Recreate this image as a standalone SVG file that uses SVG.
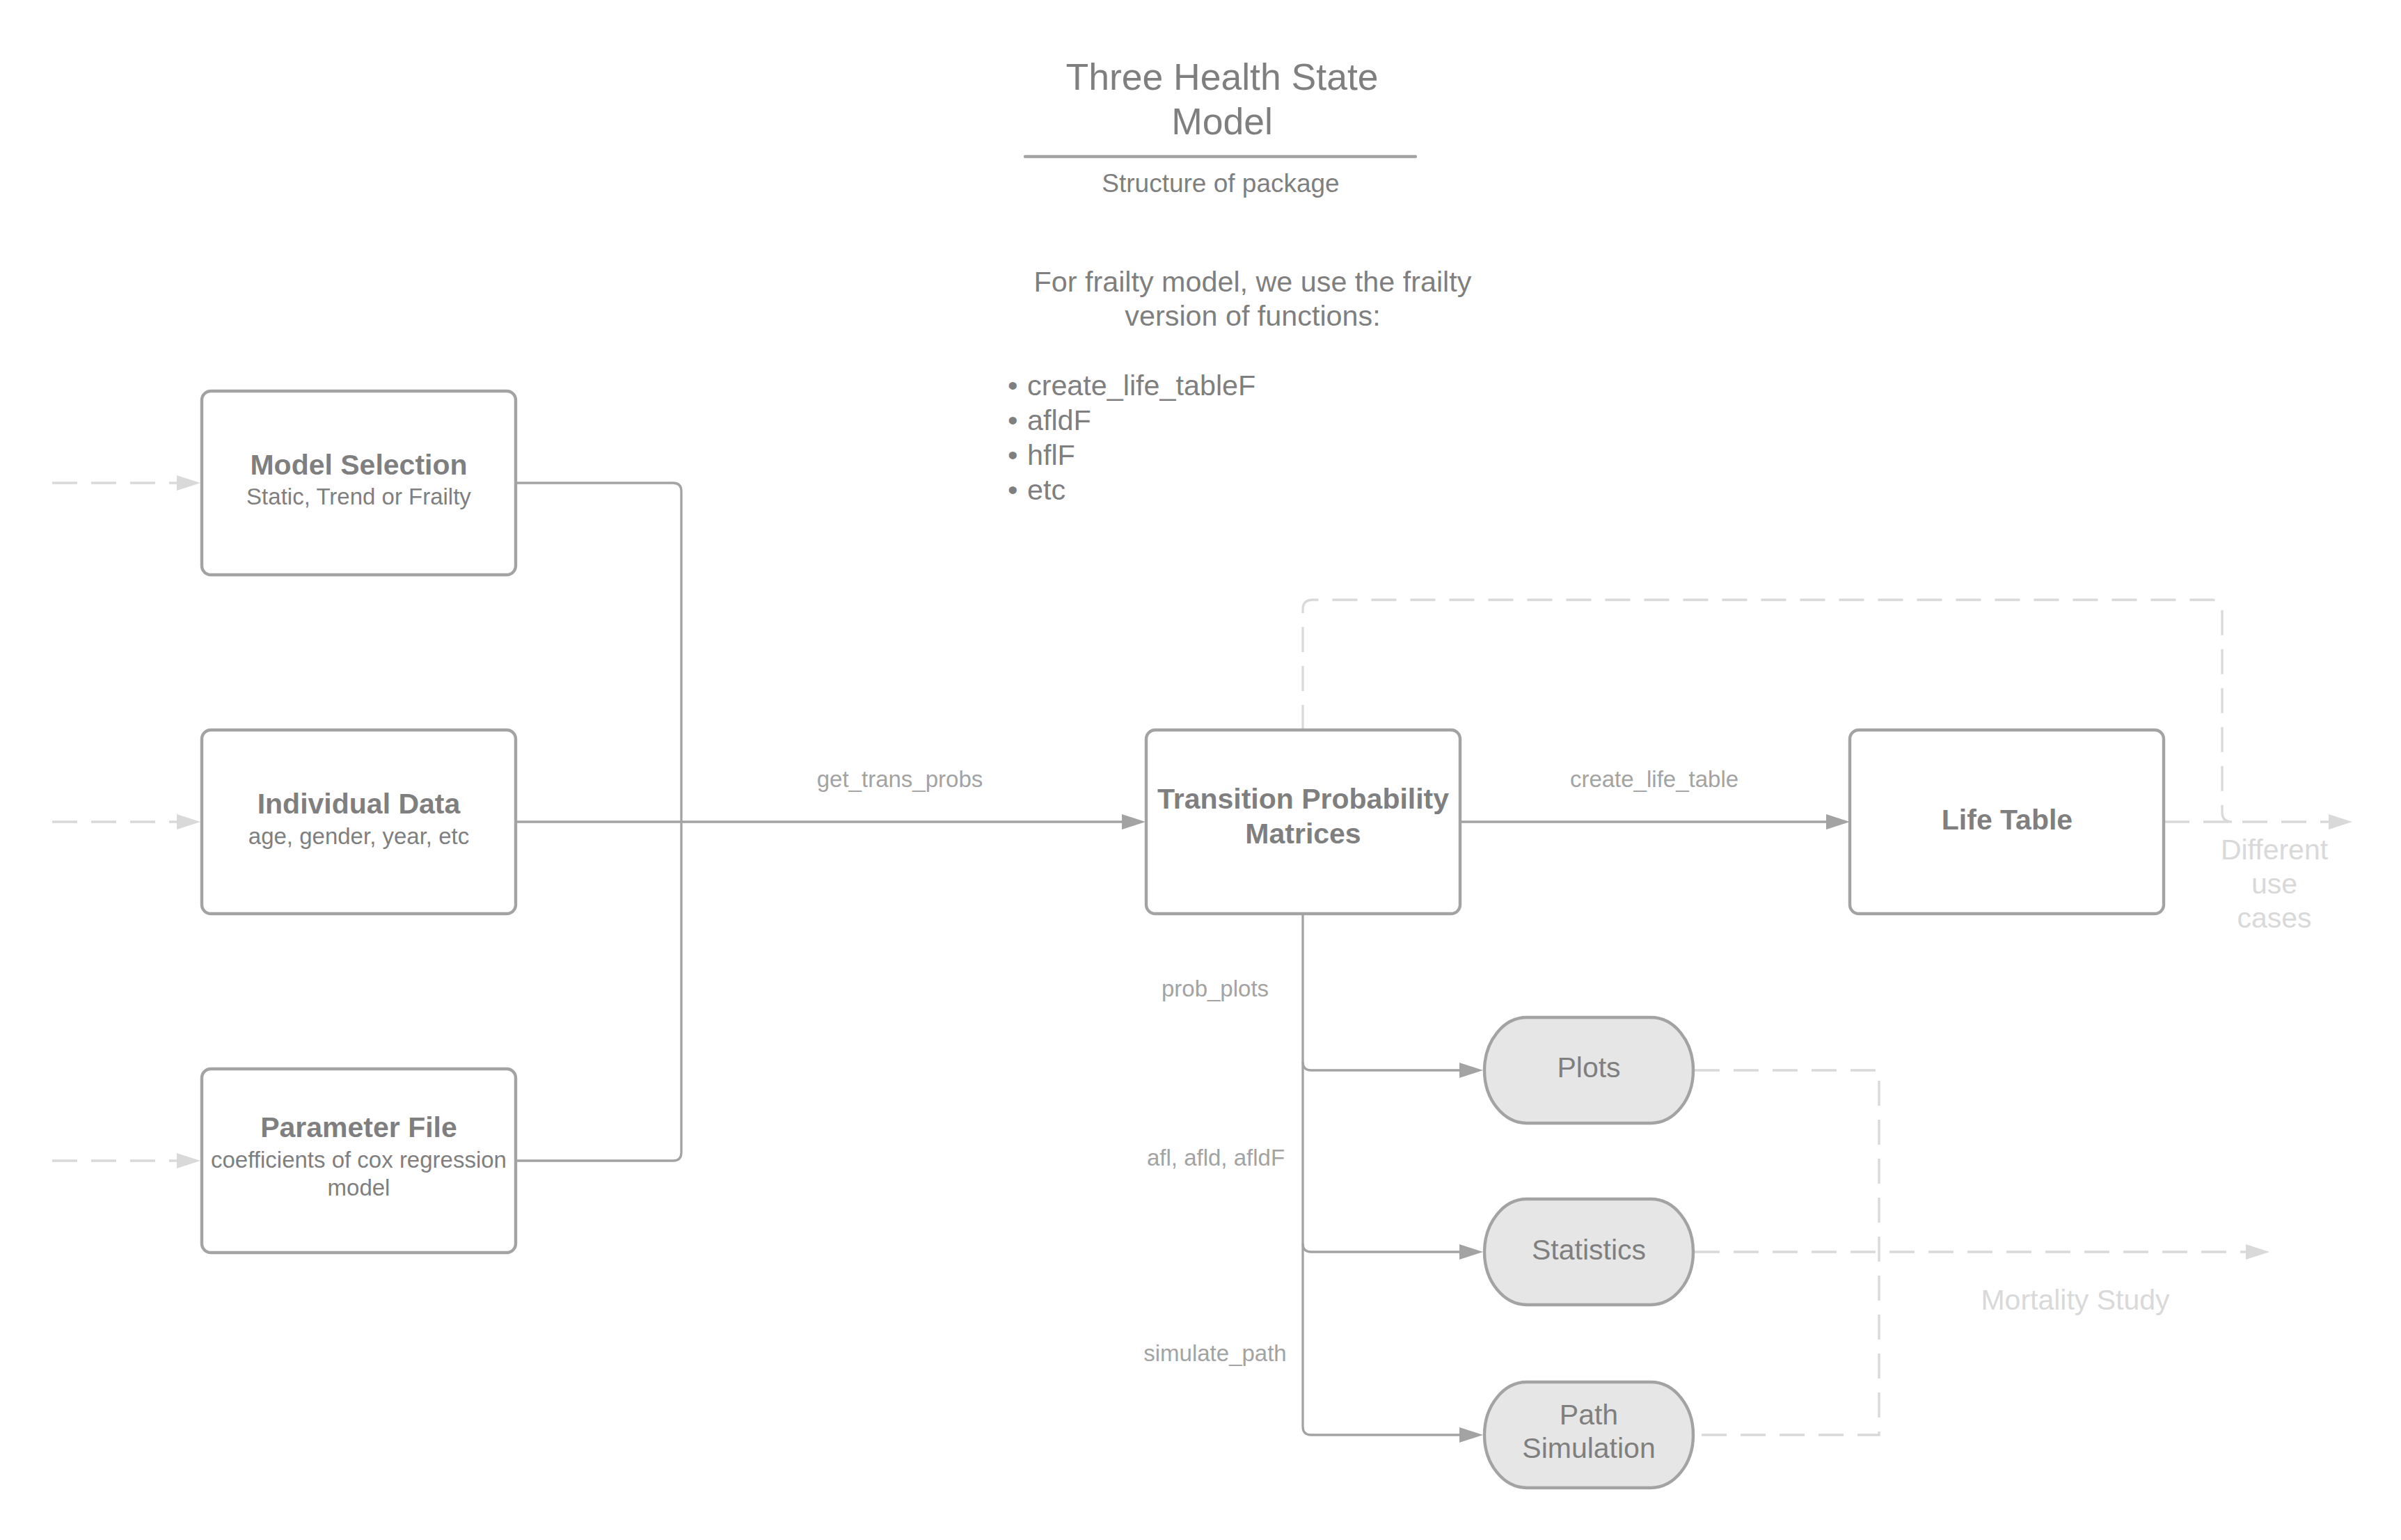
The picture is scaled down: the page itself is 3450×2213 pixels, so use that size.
<svg xmlns="http://www.w3.org/2000/svg" width="3450" height="2213" viewBox="0 0 3450 2213">
<style>
text{font-family:"Liberation Sans",Arial,sans-serif;fill:#7f7f7f}
.c{text-anchor:middle}
.t{font-size:41px;font-weight:bold}
.s{font-size:33px}
.lbl{font-size:33px;fill:#a3a3a3;text-anchor:middle}
.lt{font-size:41px;fill:#d9d9d9;text-anchor:middle}
.body{font-size:41.3px}
.box{fill:#ffffff;stroke:#a3a3a3;stroke-width:4.4}
.pill{fill:#e6e6e6;stroke:#a3a3a3;stroke-width:4.4}
.pt{font-size:41px;text-anchor:middle}
.ln{fill:none;stroke:#a3a3a3;stroke-width:3.3}
.dl{fill:none;stroke:#d9d9d9;stroke-width:3.3;stroke-dasharray:36 20}
</style>
<defs>
<marker id="arr" markerUnits="userSpaceOnUse" markerWidth="34" markerHeight="22" viewBox="0 0 34 22" refX="4" refY="11" orient="auto"><path d="M0,0 L34,11 L0,22 z" fill="#a3a3a3"/></marker>
<marker id="arrL" markerUnits="userSpaceOnUse" markerWidth="34" markerHeight="22" viewBox="0 0 34 22" refX="4" refY="11" orient="auto"><path d="M0,0 L34,11 L0,22 z" fill="#d9d9d9"/></marker>
</defs>
<rect x="0" y="0" width="3450" height="2213" fill="#ffffff"/>

<g id="title">
<text class="c" x="1756" y="129" font-size="53.5">Three Health State</text>
<text class="c" x="1756" y="193" font-size="53.5">Model</text>
<line x1="1473" y1="225" x2="2034" y2="225" stroke="#a3a3a3" stroke-width="4.4" stroke-linecap="round"/>
<text class="c" x="1754" y="276" font-size="37">Structure of package</text>
</g>

<g id="note">
<text class="c body" x="1800" y="419">For frailty model, we use the frailty</text>
<text class="c body" x="1800" y="468">version of functions:</text>
<text class="body" x="1448" y="568">•</text><text class="body" x="1476" y="568">create_life_tableF</text>
<text class="body" x="1448" y="618">•</text><text class="body" x="1476" y="618">afldF</text>
<text class="body" x="1448" y="668">•</text><text class="body" x="1476" y="668">hflF</text>
<text class="body" x="1448" y="718">•</text><text class="body" x="1476" y="718">etc</text>
</g>

<g id="connectors">
<path class="dl" d="M75,694 H258" marker-end="url(#arrL)"/>
<path class="dl" d="M75,1181 H258" marker-end="url(#arrL)"/>
<path class="dl" d="M75,1668 H258" marker-end="url(#arrL)"/>
<path class="ln" d="M741,694 H967 Q979,694 979,706 V1181"/>
<path class="ln" d="M741,1668 H967 Q979,1668 979,1656 V1181"/>
<path class="ln" d="M741,1181 H1616" marker-end="url(#arr)"/>
<path class="ln" d="M2098,1181 H2628" marker-end="url(#arr)"/>
<path class="ln" d="M1872,1313 V2050 Q1872,2062 1884,2062 H2101" marker-end="url(#arr)"/>
<path class="ln" d="M1872,1526 Q1872,1538 1884,1538 H2101" marker-end="url(#arr)"/>
<path class="ln" d="M1872,1787 Q1872,1799 1884,1799 H2101" marker-end="url(#arr)"/>
<path class="dl" d="M1872,1049 V876 Q1872,862 1886,862 H3179 Q3193,862 3193,876 V1167 Q3193,1181 3207,1181"/>
<path class="dl" d="M3110,1181 H3350" marker-end="url(#arrL)"/>
<path class="dl" d="M2435,1538 H2700 V2062 H2435"/>
<path class="dl" d="M2435,1799 H3231" marker-end="url(#arrL)"/>
<text class="lbl" x="1293" y="1131">get_trans_probs</text>
<text class="lbl" x="2377" y="1131">create_life_table</text>
<text class="lbl" x="1746" y="1432">prob_plots</text>
<text class="lbl" x="1747" y="1675">afl, afld, afldF</text>
<text class="lbl" x="1746" y="1956">simulate_path</text>
<text class="lt" x="3268" y="1235">Different</text>
<text class="lt" x="3268" y="1284">use</text>
<text class="lt" x="3268" y="1333">cases</text>
<text class="lt" x="2982" y="1882">Mortality Study</text>
</g>

<g id="model-selection">
<rect class="box" x="290" y="562" width="451" height="264" rx="13"/>
<text class="c t" x="515.5" y="682">Model Selection</text>
<text class="c s" x="515.5" y="725">Static, Trend or Frailty</text>
</g>

<g id="individual-data">
<rect class="box" x="290" y="1049" width="451" height="264" rx="13"/>
<text class="c t" x="515.5" y="1169">Individual Data</text>
<text class="c s" x="515.5" y="1213">age, gender, year, etc</text>
</g>

<g id="parameter-file">
<rect class="box" x="290" y="1536" width="451" height="264" rx="13"/>
<text class="c t" x="515.5" y="1634">Parameter File</text>
<text class="c s" x="515.5" y="1678">coefficients of cox regression</text>
<text class="c s" x="515.5" y="1718">model</text>
</g>

<g id="transition-matrices">
<rect class="box" x="1647" y="1049" width="451" height="264" rx="13"/>
<text class="c t" x="1872.5" y="1162">Transition Probability</text>
<text class="c t" x="1872.5" y="1212">Matrices</text>
</g>

<g id="life-table">
<rect class="box" x="2658" y="1049" width="451" height="264" rx="13"/>
<text class="c t" x="2884" y="1192">Life Table</text>
</g>

<g id="plots">
<rect class="pill" x="2133" y="1462" width="300" height="152" rx="61" ry="76"/>
<text class="pt" x="2283" y="1548">Plots</text>
</g>

<g id="statistics">
<rect class="pill" x="2133" y="1723" width="300" height="152" rx="61" ry="76"/>
<text class="pt" x="2283" y="1810">Statistics</text>
</g>

<g id="path-simulation">
<rect class="pill" x="2133" y="1986" width="300" height="152" rx="61" ry="76"/>
<text class="pt" x="2283" y="2047">Path</text>
<text class="pt" x="2283" y="2095">Simulation</text>
</g>
</svg>
